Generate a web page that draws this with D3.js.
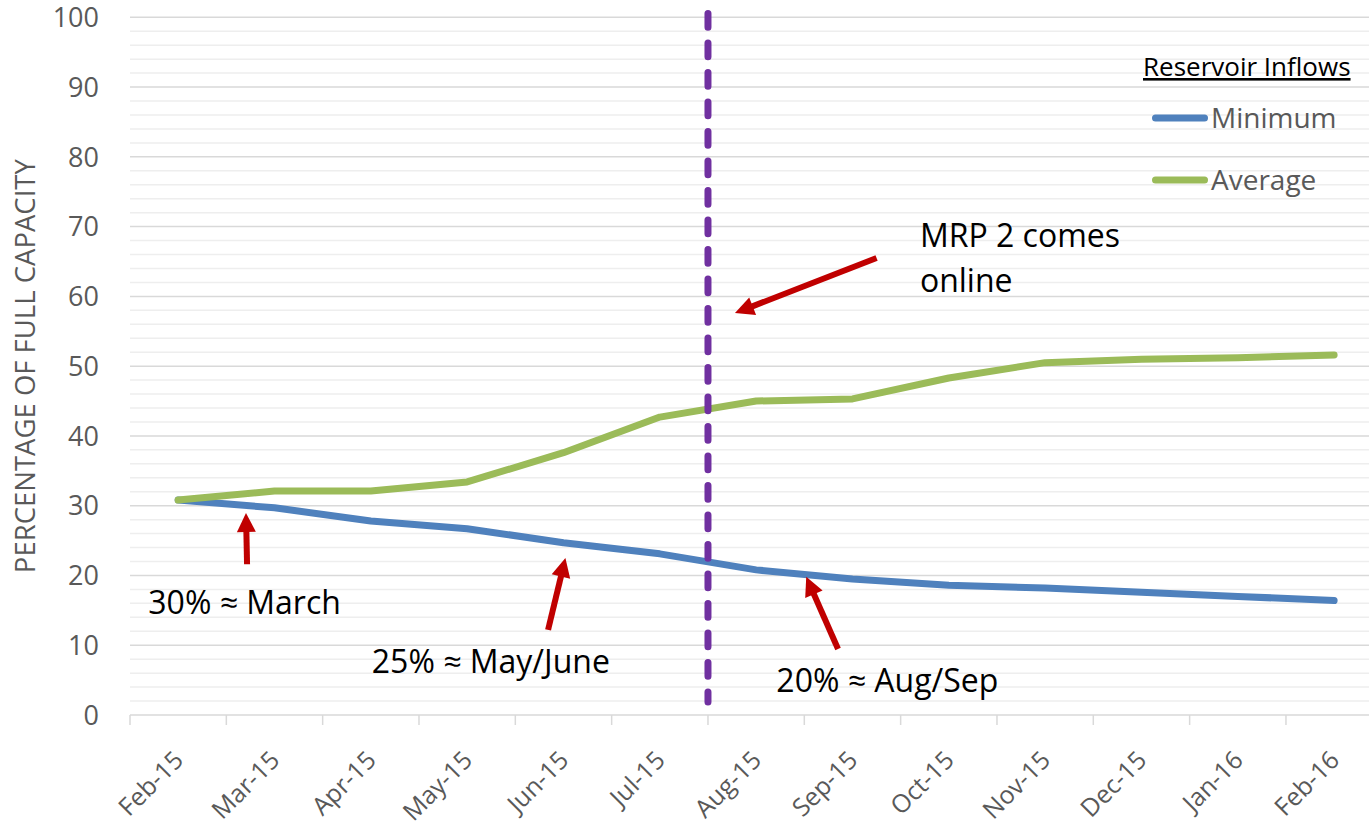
<!DOCTYPE html>
<html>
<head>
<meta charset="utf-8">
<script src="https://cdn.jsdelivr.net/npm/d3@7"></script>
<style>
  body { margin: 0; background: #fff; }
  svg { display: block; }
  text { font-family: "Open Sans", sans-serif; }
</style>
</head>
<body>
<div id="chart"></div>
<script>
// data
const months = ["Feb-15", "Mar-15", "Apr-15", "May-15", "Jun-15", "Jul-15", "Aug-15",
  "Sep-15", "Oct-15", "Nov-15", "Dec-15", "Jan-16", "Feb-16"];
const minimum = [30.8, 29.7, 27.8, 26.7, 24.7, 23.1, 20.8, 19.5, 18.6, 18.2, 17.6, 17.0, 16.4];
const average = [30.8, 32.1, 32.1, 33.4, 37.6, 42.7, 45.0, 45.3, 48.3, 50.5, 51.0, 51.2, 51.6];
const seriesNames = ["Minimum", "Average"];
const yTicks = d3.range(0, 101, 10);
const minorTicks = d3.range(2, 100, 2).filter(v => v % 10 !== 0);

// annotations, in chart units (category index, percent)
const notes = [
  { text: ["30% ≈ March"], at: [-0.31, 14.5], from: [0.715, 21.6], to: [0.704, 28.95] },
  { text: ["25% ≈ May/June"], at: [2.01, 6.0], from: [3.84, 12.2], to: [4.02, 22.5] },
  { text: ["20% ≈ Aug/Sep"], at: [6.21, 3.3], from: [6.85, 9.46], to: [6.52, 19.8] },
  { text: ["MRP 2 comes", "online"], at: [7.70, 67.1], from: [7.25, 65.5], to: [5.78, 57.6] }
];
const mrpMonth = "Aug-15";

const CMIN = "#4F81BD";
const CAVG = "#9BBB59";
const CRED = "#C00000";
const CPURPLE = "#7030A0";
const CTEXT = "#595959";

const width = 1369, height = 827;
const plotLeft = 130, plotTop = 17.3, plotBottom = 715, band = 96.33;

const svg = d3.select("#chart").append("svg")
  .attr("width", width)
  .attr("height", height)
  .attr("viewBox", [0, 0, width, height]);

svg.append("rect").attr("width", width).attr("height", height).attr("fill", "#fff");

const x = d3.scaleBand().domain(months).range([plotLeft, plotLeft + band * months.length]).padding(0);
const y = d3.scaleLinear().domain([0, 100]).range([plotBottom, plotTop]);
const plotRight = x.range()[1];
// fractional category index -> px
const xi = i => x(months[0]) + x.bandwidth() * (i + 0.5);

// gridlines
svg.append("g").selectAll("line")
  .data(minorTicks)
  .join("line")
  .attr("x1", plotLeft).attr("x2", plotRight)
  .attr("y1", d => y(d)).attr("y2", d => y(d))
  .attr("stroke", "#EEEEEE")
  .attr("stroke-width", 1.5);

svg.append("g").selectAll("line")
  .data(yTicks.filter(d => d > 0))
  .join("line")
  .attr("x1", plotLeft).attr("x2", plotRight)
  .attr("y1", d => y(d)).attr("y2", d => y(d))
  .attr("stroke", "#D9D9D9")
  .attr("stroke-width", 1.5);

// y labels
svg.append("g").selectAll("text")
  .data(yTicks)
  .join("text")
  .attr("x", 99)
  .attr("y", d => y(d))
  .attr("dy", "0.36em")
  .attr("text-anchor", "end")
  .attr("font-size", 27)
  .attr("fill", CTEXT)
  .text(d => d);

svg.append("text")
  .attr("transform", `translate(35,${(plotTop + plotBottom) / 2}) rotate(-90)`)
  .attr("text-anchor", "middle")
  .attr("font-size", 27.5)
  .attr("fill", CTEXT)
  .text("PERCENTAGE OF FULL CAPACITY");

// x axis
svg.append("line")
  .attr("x1", plotLeft).attr("x2", plotRight)
  .attr("y1", plotBottom).attr("y2", plotBottom)
  .attr("stroke", "#D9D9D9")
  .attr("stroke-width", 1.5);

svg.append("g").selectAll("line")
  .data(months)
  .join("line")
  .attr("x1", d => x(d)).attr("x2", d => x(d))
  .attr("y1", plotBottom).attr("y2", plotBottom + 10)
  .attr("stroke", "#D9D9D9")
  .attr("stroke-width", 1.5);

svg.append("g").selectAll("text")
  .data(months)
  .join("text")
  .attr("transform", d => `translate(${x(d) + x.bandwidth() / 2 - 6},749) rotate(-45)`)
  .attr("dy", "0.72em")
  .attr("text-anchor", "end")
  .attr("font-size", 25)
  .attr("fill", CTEXT)
  .text(d => d);

// lines
const line = d3.line()
  .x((d, i) => x(months[i]) + x.bandwidth() / 2)
  .y(d => y(d));

const series = [
  { name: seriesNames[0], values: minimum, color: CMIN },
  { name: seriesNames[1], values: average, color: CAVG }
];

svg.append("g").selectAll("path")
  .data(series)
  .join("path")
  .attr("d", d => line(d.values))
  .attr("fill", "none")
  .attr("stroke", d => d.color)
  .attr("stroke-width", 7)
  .attr("stroke-linecap", "round")
  .attr("stroke-linejoin", "round");

// MRP 2 marker
svg.append("line")
  .attr("x1", x(mrpMonth)).attr("x2", x(mrpMonth))
  .attr("y1", 13.5).attr("y2", 702)
  .attr("stroke", CPURPLE)
  .attr("stroke-width", 7)
  .attr("stroke-linecap", "round")
  .attr("stroke-dasharray", "13.7 15.8");

// legend
svg.append("text")
  .attr("x", 1143).attr("y", 76)
  .attr("font-size", 26)
  .attr("fill", "#000")
  .attr("text-decoration", "underline")
  .text("Reservoir Inflows");

const legend = svg.append("g").selectAll("g")
  .data(series)
  .join("g")
  .attr("transform", (d, i) => `translate(0,${118 + i * 62})`);

legend.append("line")
  .attr("x1", 1155.5).attr("x2", 1204.5)
  .attr("stroke", d => d.color)
  .attr("stroke-width", 7)
  .attr("stroke-linecap", "round");

legend.append("text")
  .attr("x", 1211).attr("y", 10)
  .attr("font-size", 28)
  .attr("fill", CTEXT)
  .text(d => d.name);

// annotations
const ann = svg.append("g").selectAll("g")
  .data(notes)
  .join("g");

ann.each(function (d) {
  const g = d3.select(this);
  const x1 = xi(d.from[0]), y1 = y(d.from[1]);
  const x2 = xi(d.to[0]), y2 = y(d.to[1]);
  const len = Math.hypot(x2 - x1, y2 - y1);
  const ux = (x2 - x1) / len, uy = (y2 - y1) / len;
  const head = 19, half = 9.5;
  const bx = x2 - ux * head, by = y2 - uy * head;
  g.append("line")
    .attr("x1", x1).attr("y1", y1)
    .attr("x2", bx + ux * 1).attr("y2", by + uy * 1)
    .attr("stroke", CRED)
    .attr("stroke-width", 6);
  g.append("path")
    .attr("d", `M${x2},${y2}L${bx - uy * half},${by + ux * half}L${bx + uy * half},${by - ux * half}Z`)
    .attr("fill", CRED);
  g.append("text")
    .attr("x", xi(d.at[0]))
    .attr("y", y(d.at[1]))
    .attr("font-size", 32)
    .attr("fill", "#000")
    .selectAll("tspan")
    .data(d.text)
    .join("tspan")
    .attr("x", xi(d.at[0]))
    .attr("dy", (t, i) => i === 0 ? 0 : 45)
    .text(t => t);
});
</script>
</body>
</html>
